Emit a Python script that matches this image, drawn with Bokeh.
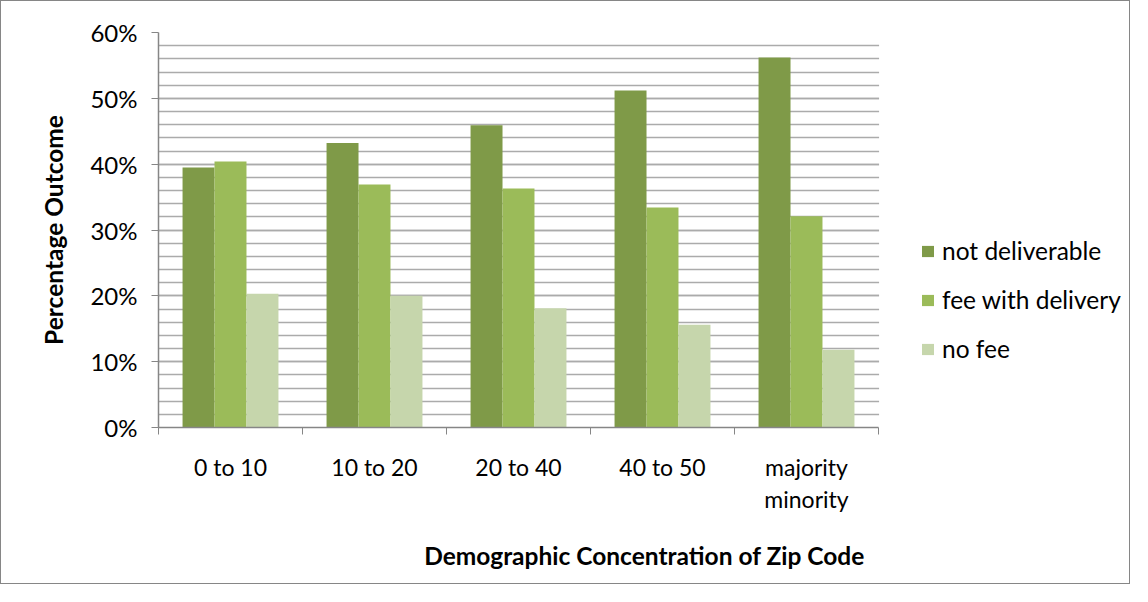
import numpy as np
from bokeh.plotting import figure
from bokeh.models import (ColumnDataSource, FixedTicker, NumeralTickFormatter,
                          Legend, LegendItem, Range1d, BoxAnnotation)
from bokeh.transform import dodge
from bokeh.embed import file_html
from bokeh.resources import INLINE

categories = ["0 to 10", "10 to 20", "20 to 40", "40 to 50", "majority\nminority"]
series_names = ["not deliverable", "fee with delivery", "no fee"]
not_deliverable = [0.395, 0.432, 0.459, 0.512, 0.562]
fee_with_delivery = [0.404, 0.369, 0.363, 0.334, 0.321]
no_fee = [0.203, 0.200, 0.181, 0.156, 0.118]
y_ticks = [0.0, 0.1, 0.2, 0.3, 0.4, 0.5, 0.6]
y_minor_step = 0.02

colors = ["#7f9a48", "#9bbb59", "#c6d6ac"]
FONT = "Lato"

n = len(categories)
centers = np.arange(n) + 0.5
bw = 0.222
src = ColumnDataSource(dict(x=centers, a=not_deliverable, b=fee_with_delivery, c=no_fee))

# frame extends right to hold the legend; the area beyond the categories is masked white
p = figure(width=1130, height=584, output_backend="svg", toolbar_location=None,
           x_range=Range1d(0, 6.75), y_range=Range1d(0, y_ticks[-1]),
           min_border_left=157, min_border_right=1, min_border_top=31, min_border_bottom=158)
p.styles = {"border": "1px solid #868686"}
p.outline_line_color = None

renderers = []
for i, (col, c) in enumerate(zip(["a", "b", "c"], colors)):
    r = p.vbar(x=dodge("x", (i - 1) * bw, range=p.x_range), top=col, width=bw, source=src,
               fill_color=c, line_color=None)
    renderers.append(r)

p.add_layout(BoxAnnotation(left=n + 0.004, fill_color="white", fill_alpha=1.0,
                           line_color=None, level="glyph"))

xa = p.xaxis[0]
xa.bounds = (0, n)
xa.ticker = FixedTicker(ticks=list(centers), minor_ticks=list(range(n + 1)))
xa.major_label_overrides = {float(c): lab for c, lab in zip(centers, categories)}
xa.major_tick_line_color = None
xa.major_tick_out = 0
xa.minor_tick_in = 0
xa.minor_tick_out = 7
xa.minor_tick_line_color = "#868686"
xa.axis_line_color = "#868686"
xa.axis_line_width = 1.5
xa.major_label_text_font = FONT
xa.major_label_text_font_size = "23px"
xa.major_label_text_color = "#000000"
xa.major_label_text_line_height = 1.17
xa.major_label_standoff = 18
xa.axis_label = "Demographic Concentration of Zip Code"
xa.axis_label_text_font = FONT
xa.axis_label_text_font_style = "bold"
xa.axis_label_text_font_size = "24.5px"
xa.axis_label_text_color = "#000000"
xa.axis_label_standoff = 25

ya = p.yaxis[0]
minor = list(np.round(np.arange(0, y_ticks[-1] + 1e-9, y_minor_step), 3))
ya.ticker = FixedTicker(ticks=y_ticks, minor_ticks=minor)
ya.formatter = NumeralTickFormatter(format="0%")
ya.major_tick_in = 0
ya.major_tick_out = 7
ya.minor_tick_out = 0
ya.minor_tick_in = 0
ya.major_tick_line_color = "#868686"
ya.axis_line_color = "#868686"
ya.axis_line_width = 1.5
ya.major_label_text_font = FONT
ya.major_label_text_font_size = "24px"
ya.major_label_text_color = "#000000"
ya.major_label_standoff = 14
ya.axis_label = "Percentage Outcome"
ya.axis_label_text_font = FONT
ya.axis_label_text_font_style = "bold"
ya.axis_label_text_font_size = "24.5px"
ya.axis_label_text_color = "#000000"
ya.axis_label_standoff = 19

p.xgrid.grid_line_color = None
p.ygrid.grid_line_color = "#ababab"
p.ygrid.grid_line_width = 1.3
p.ygrid.minor_grid_line_color = "#ababab"
p.ygrid.minor_grid_line_width = 1.3
p.ygrid.level = "underlay"

legend = Legend(items=[LegendItem(label=s, renderers=[r]) for s, r in zip(series_names, renderers)],
                location=(762, 64), padding=0, spacing=20, glyph_width=15, glyph_height=14,
                label_height=20, label_standoff=7, label_text_font=FONT,
                label_text_font_size="24.5px", label_text_color="#000000",
                border_line_color=None, background_fill_alpha=0)
p.add_layout(legend, "center")

open("out.html", "w").write(file_html(p, INLINE))
